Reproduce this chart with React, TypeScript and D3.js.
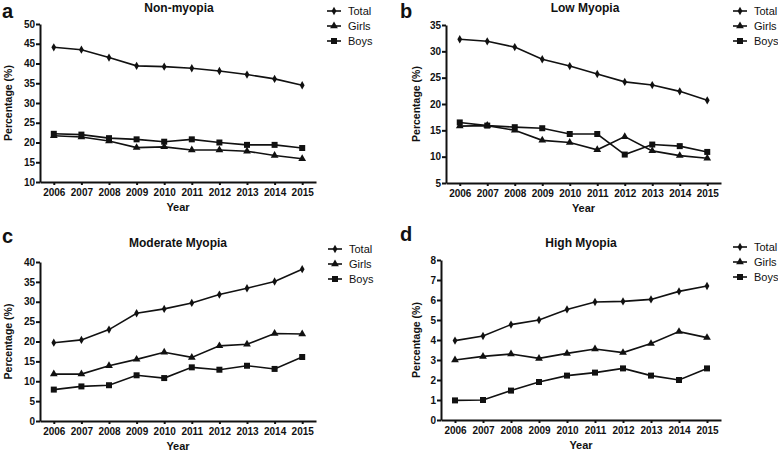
import React, { useRef, useEffect } from 'react';
import * as d3 from 'd3';

const years = ['2006', '2007', '2008', '2009', '2010', '2011', '2012', '2013', '2014', '2015'];
const seriesNames = ['Total', 'Girls', 'Boys'];

const nonMyopiaTotal = [44.1, 43.5, 41.5, 39.4, 39.2, 38.8, 38.1, 37.2, 36.1, 34.5];
const nonMyopiaGirls = [21.7, 21.4, 20.4, 18.7, 18.9, 18.1, 18.1, 17.8, 16.7, 15.9];
const nonMyopiaBoys = [22.2, 22.0, 21.1, 20.8, 20.2, 20.8, 20.0, 19.4, 19.4, 18.6];

const lowTotal = [32.3, 31.9, 30.8, 28.5, 27.2, 25.7, 24.2, 23.6, 22.4, 20.7];
const lowGirls = [15.8, 15.9, 15.0, 13.1, 12.7, 11.3, 13.8, 11.1, 10.2, 9.7];
const lowBoys = [16.5, 15.9, 15.6, 15.4, 14.3, 14.3, 10.4, 12.3, 12.0, 10.9];

const moderateTotal = [19.7, 20.4, 23.0, 27.1, 28.2, 29.7, 31.8, 33.4, 35.1, 38.2];
const moderateGirls = [11.8, 11.8, 13.9, 15.5, 17.3, 16.0, 18.9, 19.3, 22.0, 21.9];
const moderateBoys = [7.9, 8.7, 9.0, 11.5, 10.8, 13.5, 12.9, 13.9, 13.1, 16.1];

const highTotal = [3.97, 4.2, 4.77, 5.0, 5.53, 5.9, 5.93, 6.03, 6.43, 6.7];
const highGirls = [3.0, 3.18, 3.3, 3.08, 3.33, 3.55, 3.37, 3.82, 4.42, 4.12];
const highBoys = [0.98, 1.0, 1.47, 1.9, 2.22, 2.37, 2.58, 2.22, 2.0, 2.58];

const panels = [
  {
    letter: 'a', title: 'Non-myopia',
    series: [nonMyopiaTotal, nonMyopiaGirls, nonMyopiaBoys],
    yMin: 10, yMax: 50, yStep: 5,
    left: 40, right: 316, top: 24, bottom: 182,
    titleX: 179, titleY: 12, letterX: 2, letterY: 18, yLabelX: 12,
    legendX: 327, legendY: 11
  },
  {
    letter: 'b', title: 'Low Myopia',
    series: [lowTotal, lowGirls, lowBoys],
    yMin: 5, yMax: 35, yStep: 5,
    left: 446, right: 721, top: 25, bottom: 183,
    titleX: 585, titleY: 12, letterX: 400, letterY: 18, yLabelX: 420,
    legendX: 733, legendY: 11
  },
  {
    letter: 'c', title: 'Moderate Myopia',
    series: [moderateTotal, moderateGirls, moderateBoys],
    yMin: 0, yMax: 40, yStep: 5,
    left: 40, right: 316, top: 262, bottom: 421,
    titleX: 178, titleY: 247, letterX: 2, letterY: 243, yLabelX: 12,
    legendX: 328, legendY: 249
  },
  {
    letter: 'd', title: 'High Myopia',
    series: [highTotal, highGirls, highBoys],
    yMin: 0, yMax: 8, yStep: 1,
    left: 441, right: 721, top: 260, bottom: 420,
    titleX: 581, titleY: 247, letterX: 400, letterY: 241, yLabelX: 420,
    legendX: 733, legendY: 247
  }
];

const symbolTypes = [d3.symbolDiamond, d3.symbolTriangle, d3.symbolSquare];
const symbolSizes = [20, 26, 36];
const ink = '#111';
const font = '"Liberation Sans", Arial, sans-serif';

const App: React.FC = () => {
  const chartRef = useRef<SVGSVGElement | null>(null);

  useEffect(() => {
    if (!chartRef.current) return;
    const svg = d3.select(chartRef.current);
    svg.selectAll('*').remove();

    panels.forEach(p => {
      const g = svg.append('g');

      const x = d3.scalePoint<string>()
        .domain(years)
        .range([p.left, p.right])
        .padding(0.5);

      const y = d3.scaleLinear()
        .domain([p.yMin, p.yMax])
        .range([p.bottom, p.top]);

      // Y axis
      g.append('g')
        .attr('transform', `translate(${p.left},0)`)
        .call(d3.axisLeft(y)
          .tickValues(d3.range(p.yMin, p.yMax + 0.001, p.yStep))
          .tickSize(4).tickSizeOuter(0).tickPadding(1))
        .call(a => a.selectAll('path, line').attr('stroke', ink).attr('stroke-width', 2))
        .call(a => a.selectAll('text')
          .attr('font-family', font).attr('font-weight', 'bold')
          .attr('font-size', 10).attr('fill', ink));

      // X axis
      g.append('g')
        .attr('transform', `translate(0,${p.bottom})`)
        .call(d3.axisBottom(x).tickSize(3).tickSizeOuter(0).tickPadding(4))
        .call(a => a.selectAll('path, line').attr('stroke', ink).attr('stroke-width', 2))
        .call(a => a.selectAll('text')
          .attr('font-family', font).attr('font-weight', 'bold')
          .attr('font-size', 10).attr('fill', ink));

      // Series lines and markers
      p.series.forEach((values, i) => {
        const line = d3.line<number>()
          .x((_, j) => x(years[j]) as number)
          .y(d => y(d));

        g.append('path')
          .datum(values)
          .attr('d', line)
          .attr('fill', 'none')
          .attr('stroke', ink)
          .attr('stroke-width', 1.6);

        g.append('g')
          .selectAll('path')
          .data(values)
          .join('path')
          .attr('transform', (d, j) => `translate(${x(years[j])},${y(d)})`)
          .attr('d', d3.symbol().type(symbolTypes[i]).size(symbolSizes[i]))
          .attr('fill', ink);
      });

      // Title
      g.append('text')
        .attr('x', p.titleX)
        .attr('y', p.titleY)
        .attr('text-anchor', 'middle')
        .attr('font-family', font).attr('font-weight', 'bold').attr('font-size', 12)
        .attr('fill', ink)
        .text(p.title);

      // Panel letter
      g.append('text')
        .attr('x', p.letterX)
        .attr('y', p.letterY)
        .attr('font-family', font).attr('font-weight', 'bold').attr('font-size', 20)
        .attr('fill', ink)
        .text(p.letter);

      // Axis titles
      g.append('text')
        .attr('transform', `translate(${p.yLabelX},${(p.top + p.bottom) / 2}) rotate(-90)`)
        .attr('text-anchor', 'middle')
        .attr('font-family', font).attr('font-weight', 'bold').attr('font-size', 10.5)
        .attr('fill', ink)
        .text('Percentage (%)');

      g.append('text')
        .attr('x', (p.left + p.right) / 2)
        .attr('y', p.bottom + 29)
        .attr('text-anchor', 'middle')
        .attr('font-family', font).attr('font-weight', 'bold').attr('font-size', 11)
        .attr('fill', ink)
        .text('Year');

      // Legend
      const legend = g.append('g');
      seriesNames.forEach((name, i) => {
        const ly = p.legendY + i * 15;
        legend.append('line')
          .attr('x1', p.legendX).attr('x2', p.legendX + 14)
          .attr('y1', ly).attr('y2', ly)
          .attr('stroke', ink).attr('stroke-width', 1.6);
        legend.append('path')
          .attr('transform', `translate(${p.legendX + 7},${ly})`)
          .attr('d', d3.symbol().type(symbolTypes[i]).size(symbolSizes[i]))
          .attr('fill', ink);
        legend.append('text')
          .attr('x', p.legendX + 21)
          .attr('y', ly)
          .attr('dy', '0.35em')
          .attr('font-family', font).attr('font-size', 11)
          .attr('fill', ink)
          .text(name);
      });
    });
  }, []);

  return (
    <svg
      ref={chartRef}
      width={778}
      height={452}
      style={{ position: 'absolute', left: 0, top: 0, background: '#fff' }}
    />
  );
};

export default App;
